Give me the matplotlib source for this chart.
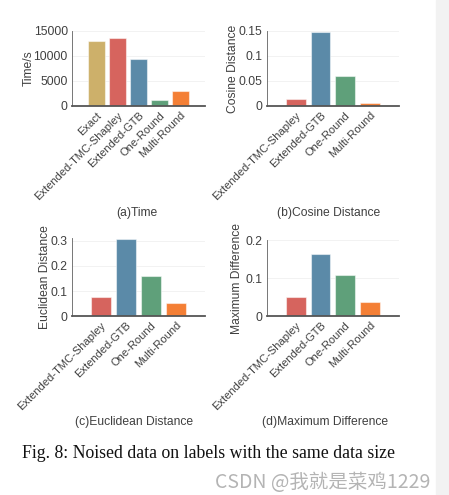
# Noised data on labels, same data size: four bar panels
import matplotlib.pyplot as plt
from matplotlib.patches import Rectangle

# data
cats_a = ['Exact', 'Extended-TMC-Shapley', 'Extended-GTB', 'One-Round', 'Multi-Round']
time_s = [13000, 13600, 9450, 1200, 3000]

cats = ['Extended-TMC-Shapley', 'Extended-GTB', 'One-Round', 'Multi-Round']
cosine = [0.014, 0.148, 0.0605, 0.0068]
euclid = [0.076, 0.307, 0.159, 0.053]
maxdiff = [0.049, 0.164, 0.107, 0.037]

col = {'Exact': '#cdb06a', 'Extended-TMC-Shapley': '#d6645e',
       'Extended-GTB': '#5b8aa8', 'One-Round': '#5fa07a', 'Multi-Round': '#f47f35'}

plt.rcParams['font.family'] = ['Liberation Sans', 'DejaVu Sans']
txt = '#404040'
fs = 8.7
W, H = 449, 495

fig = plt.figure(figsize=(4.49, 4.95), dpi=100)


def panel(rect, labels, vals, ylim, yticks, yticklabels, ylabel, ylabel_x, title, title_xy):
    ax = fig.add_axes(rect)
    x = range(len(labels))
    ax.bar(x, vals, width=0.8, color=[col[c] for c in labels],
           edgecolor=(1, 1, 1, 0.5), linewidth=0.8, zorder=2)
    ax.set_xlim(-1.17, len(labels) - 1 + 1.17)
    ax.set_ylim(*ylim)
    ax.set_yticks(yticks)
    ax.set_yticklabels(yticklabels)
    ax.set_xticks(list(x))
    ax.set_xticklabels(labels, rotation=45, ha='right', rotation_mode='anchor')
    ax.tick_params(length=0, colors=txt, pad=3)
    ax.tick_params(axis='y', labelsize=fs)
    ax.tick_params(axis='x', labelsize=8)
    ax.grid(axis='y', color='#f0f0f0', linewidth=0.6, zorder=0)
    ax.set_axisbelow(True)
    for s in ['top', 'right']:
        ax.spines[s].set_visible(False)
    ax.spines['left'].set_color('#606060')
    ax.spines['left'].set_linewidth(0.6)
    ax.spines['bottom'].set_color('#555555')
    ax.spines['bottom'].set_linewidth(1.3)
    ax.set_ylabel(ylabel, fontsize=fs, color=txt)
    ax.yaxis.set_label_coords(ylabel_x / W, rect[1] + rect[3] / 2, transform=fig.transFigure)
    fig.text(title_xy[0] / W, 1 - title_xy[1] / H, title, fontsize=fs,
             color=txt, ha='center', va='center')
    return ax


panel([0.1604, 0.7859, 0.2962, 0.1515], cats_a, time_s, (0, 15000),
      [0, 5000, 10000, 15000], ['0', '5000', '10000', '15000'],
      'Time/s', 35, '(a)Time', (137, 213))
panel([0.594, 0.7859, 0.2947, 0.1515], cats, cosine, (0, 0.15),
      [0, 0.05, 0.1, 0.15], ['0', '0.05', '0.1', '0.15'],
      'Cosine Distance', 239, '(b)Cosine Distance', (329, 213))
panel([0.1597, 0.3616, 0.2969, 0.1566], cats, euclid, (0, 0.31),
      [0, 0.1, 0.2, 0.3], ['0', '0.1', '0.2', '0.3'],
      'Euclidean Distance', 51, '(c)Euclidean Distance', (134, 422))
panel([0.594, 0.3616, 0.2947, 0.153], cats, maxdiff, (0, 0.2),
      [0, 0.1, 0.2], ['0', '0.1', '0.2'],
      'Maximum Difference', 243, '(d)Maximum Difference', (325, 422))

# caption and watermark
fig.text(22 / W, 1 - 454 / H, 'Fig. 8: Noised data on labels with the same data size',
         family='Liberation Serif', fontsize=12.8, color='#111111', ha='left', va='center')
fig.text(430 / W, 1 - 482 / H, 'CSDN @我就是菜鸡1229',
         family=['Noto Sans CJK SC', 'DejaVu Sans'], fontsize=14, color='#b4b4b4',
         ha='right', va='center')

# grey strip on the right edge
fig.patches.append(Rectangle((436 / W, 0), 13 / W, 1, transform=fig.transFigure,
                             color='#f2f2f2', zorder=-1))

fig.savefig('out.png', dpi=100)
